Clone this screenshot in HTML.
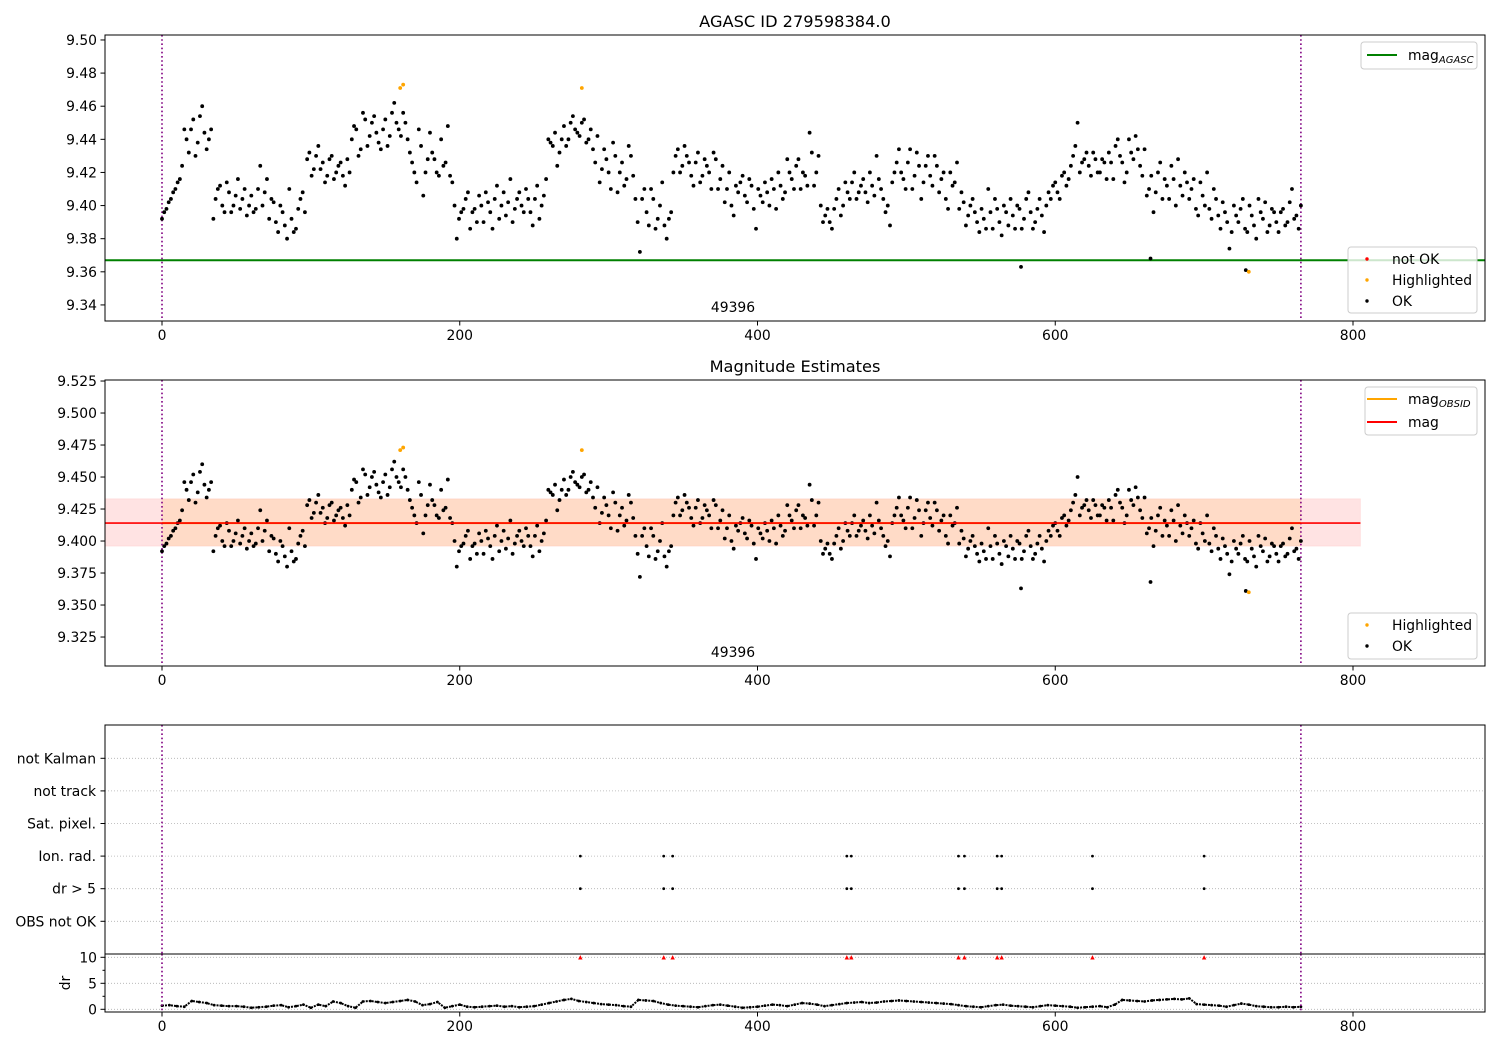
<!DOCTYPE html>
<html><head><meta charset="utf-8">
<style>
html,body{margin:0;padding:0;background:#fff;}
svg{display:block;font-family:"DejaVu Sans","Liberation Sans",sans-serif;}
</style></head>
<body>
<svg id="fig" width="1500" height="1050" viewBox="0 0 1500 1050" xmlns="http://www.w3.org/2000/svg"></svg>
<script>
// ---- data ----
const magStep = 3;
const magValues = [
9.392,9.398,9.404,9.410,9.416,9.446,9.432,9.452,9.438,9.460,
9.434,9.446,9.404,9.412,9.396,9.408,9.400,9.416,9.404,9.394,
9.406,9.398,9.424,9.408,9.392,9.402,9.384,9.396,9.380,9.392,
9.386,9.404,9.396,9.432,9.422,9.436,9.426,9.418,9.430,9.420,
9.426,9.412,9.420,9.448,9.430,9.456,9.436,9.450,9.444,9.434,
9.452,9.442,9.462,9.446,9.456,9.440,9.426,9.414,9.436,9.420,
9.444,9.428,9.418,9.424,9.448,9.414,9.380,9.396,9.404,9.386,
9.398,9.406,9.390,9.402,9.386,9.412,9.400,9.394,9.416,9.398,
9.408,9.396,9.404,9.388,9.412,9.400,9.416,9.438,9.444,9.432,
9.448,9.440,9.454,9.444,9.450,9.438,9.446,9.426,9.414,9.434,
9.420,9.438,9.408,9.426,9.416,9.430,9.404,9.372,9.410,9.388,
9.404,9.392,9.414,9.380,9.396,9.430,9.420,9.436,9.426,9.412,
9.432,9.418,9.424,9.410,9.428,9.416,9.402,9.420,9.394,9.408,
9.418,9.402,9.412,9.386,9.406,9.414,9.400,9.410,9.420,9.404,
9.428,9.416,9.424,9.410,9.418,9.444,9.412,9.430,9.390,9.398,
9.386,9.404,9.394,9.414,9.404,9.420,9.408,9.416,9.402,9.412,
9.430,9.410,9.396,9.388,9.420,9.434,9.416,9.426,9.410,9.432,
9.404,9.424,9.418,9.430,9.408,9.420,9.398,9.412,9.426,9.408,
9.388,9.400,9.396,9.384,9.392,9.410,9.386,9.398,9.382,9.396,
9.404,9.386,9.398,9.392,9.408,9.386,9.398,9.394,9.400,9.404,
9.414,9.404,9.420,9.416,9.430,9.450,9.426,9.432,9.418,9.428,
9.420,9.426,9.432,9.416,9.440,9.426,9.420,9.432,9.442,9.424,
9.434,9.410,9.396,9.420,9.404,9.412,9.424,9.400,9.412,9.420,
9.404,9.416,9.394,9.406,9.420,9.392,9.404,9.386,9.396,9.374,
9.400,9.390,9.404,9.384,9.394,9.380,9.396,9.402,9.388,9.396,
9.384,9.398,9.390,9.410,9.394,9.400];
const magOffsetB = 1.5;
const magValuesB = [
9.396,9.402,9.408,9.414,9.424,9.440,9.446,9.430,9.454,9.444,
9.440,9.392,9.410,9.400,9.414,9.396,9.406,9.398,9.410,9.400,
9.396,9.410,9.400,9.416,9.404,9.390,9.400,9.388,9.410,9.384,
9.398,9.408,9.428,9.418,9.430,9.422,9.414,9.428,9.416,9.424,
9.418,9.428,9.440,9.446,9.434,9.452,9.442,9.454,9.438,9.446,
9.436,9.456,9.450,9.442,9.450,9.432,9.420,9.446,9.406,9.428,
9.432,9.420,9.440,9.426,9.418,9.400,9.392,9.398,9.408,9.396,
9.390,9.400,9.408,9.396,9.404,9.392,9.408,9.402,9.390,9.404,
9.400,9.410,9.396,9.404,9.392,9.406,9.440,9.436,9.424,9.440,
9.436,9.450,9.446,9.442,9.452,9.440,9.434,9.442,9.422,9.428,
9.410,9.430,9.420,9.412,9.436,9.418,9.390,9.404,9.396,9.410,
9.386,9.400,9.388,9.392,9.420,9.434,9.424,9.430,9.418,9.426,
9.414,9.428,9.420,9.432,9.410,9.424,9.410,9.400,9.412,9.414,
9.406,9.416,9.398,9.410,9.402,9.408,9.416,9.398,9.412,9.408,
9.420,9.410,9.428,9.420,9.412,9.432,9.420,9.400,9.394,9.390,
9.398,9.410,9.400,9.408,9.414,9.404,9.412,9.408,9.420,9.406,
9.416,9.404,9.400,9.414,9.426,9.420,9.410,9.434,9.418,9.424,
9.414,9.430,9.412,9.424,9.416,9.404,9.420,9.414,9.398,9.402,
9.394,9.404,9.390,9.398,9.386,9.396,9.404,9.390,9.400,9.388,
9.394,9.400,9.386,9.404,9.396,9.390,9.404,9.384,9.408,9.412,
9.408,9.418,9.412,9.424,9.436,9.420,9.428,9.424,9.432,9.420,
9.428,9.416,9.426,9.436,9.430,9.414,9.440,9.428,9.434,9.418,
9.406,9.418,9.408,9.426,9.416,9.404,9.416,9.428,9.406,9.414,
9.410,9.398,9.414,9.400,9.398,9.410,9.394,9.402,9.390,9.384,
9.394,9.398,9.386,9.400,9.388,9.404,9.392,9.384,9.398,9.390,
9.396,9.388,9.402,9.392,9.386];
const extraT = [577, 664, 728];
const extraM = [9.363, 9.368, 9.361];
const hlT = [160, 162, 282, 730];
const hlM = [9.471, 9.473, 9.471, 9.360];
const magAgasc = 9.367;
const magObsid = 9.414;
const magMean = 9.414;
const magLow = 9.396;
const magHigh = 9.433;
const obsStart = 0, obsEnd = 765;
const obsLabel = "49396";
const flagTimes = [281, 337, 343, 460, 463, 535, 539, 561, 564, 625, 700];
const drStep = 5;
const drValues = [
0.7,0.8,0.6,0.5,1.6,1.4,1.2,0.8,0.7,0.6,
0.6,0.5,0.3,0.4,0.5,0.7,0.8,0.4,0.6,0.9,
0.3,0.9,0.6,1.5,1.2,0.6,0.3,1.5,1.6,1.4,
1.2,1.4,1.6,1.8,1.5,0.8,1.0,1.4,0.3,0.6,
0.9,0.5,0.4,0.5,0.6,0.7,0.5,0.6,0.4,0.5,
0.6,0.9,1.2,1.5,1.8,2.0,1.6,1.4,1.2,1.0,
0.9,0.8,0.6,0.5,1.8,1.7,1.6,1.2,0.9,0.7,
0.6,0.5,0.4,0.6,0.8,0.9,0.7,0.5,0.3,0.4,
0.5,0.7,0.9,0.8,0.6,0.9,1.2,1.1,0.9,0.6,
0.8,1.0,1.2,1.3,1.4,1.2,1.3,1.5,1.6,1.7,
1.6,1.5,1.4,1.3,1.2,1.1,1.0,0.8,0.6,0.5,
0.4,0.6,0.8,0.9,0.7,0.6,0.5,0.4,0.6,0.8,
0.7,0.6,0.5,0.3,0.4,0.5,0.6,0.4,0.9,1.8,
1.7,1.6,1.5,1.7,1.8,1.9,2.0,1.9,2.1,1.0,
0.9,0.8,0.7,0.5,0.8,1.1,0.9,0.6,0.5,0.4,
0.4,0.5,0.4,0.5];
const xTicks = [0, 200, 400, 600, 800];
const y1Ticks = [9.34, 9.36, 9.38, 9.40, 9.42, 9.44, 9.46, 9.48, 9.50];
const y2Ticks = [9.325, 9.350, 9.375, 9.400, 9.425, 9.450, 9.475, 9.500, 9.525];
const flagLabels = ["OBS not OK", "dr > 5", "Ion. rad.", "Sat. pixel.", "not track", "not Kalman"];
const drTicks = [0, 5, 10];

// ---- helpers ----
const NS = "http://www.w3.org/2000/svg";
const svg = document.getElementById('fig');
function el(tag, attrs, parent, text) {
  const e = document.createElementNS(NS, tag);
  for (const k in attrs) e.setAttribute(k, attrs[k]);
  if (text !== undefined) e.textContent = text;
  (parent || svg).appendChild(e);
  return e;
}
const L = 105, R = 1485;
const PR = 1.9;
const FS = 13.9;
const x = t => 162 + t * 1.48875;
const y1 = m => 35 + (9.503 - m) * 1656;
const y2 = m => 380 + (9.5258 - m) * 1280;
const yFlag = i => 921.3 - i * 32.6;
const yDr = d => 1009.3 - d * 5.2;

function axesFrame(name) {
  const g = el('g', {});
  
  
  return g;
}
function frameRect(g, top, bottom) {
  el('rect', {x: L, y: top, width: R - L, height: bottom - top, fill: 'none', stroke: '#000', 'stroke-width': 1}, g);
}
function xAxis(g, bottom, name) {
  const ax = el('g', {}, g);
  
  
  xTicks.forEach(t => {
    el('line', {x1: x(t), x2: x(t), y1: bottom, y2: bottom + 4.5, stroke: '#000'}, ax);
    const tx = el('text', {x: x(t), y: bottom + 19, 'font-size': FS, 'text-anchor': 'middle'}, ax, String(t));
    
    
  });
}
function yAxis(g, ticks, yf, dec, name) {
  const ax = el('g', {}, g);
  
  
  ticks.forEach(v => {
    el('line', {x1: L - 4.5, x2: L, y1: yf(v), y2: yf(v), stroke: '#000'}, ax);
    const tx = el('text', {x: L - 8, y: yf(v) + 5, 'font-size': FS, 'text-anchor': 'end'}, ax, v.toFixed(dec));
    
    
  });
}
function vlines(g, top, bottom) {
  [obsStart, obsEnd].forEach(t => {
    const ln = el('line', {x1: x(t), x2: x(t), y1: top, y2: bottom, stroke: '#800080', 'stroke-width': 1.6, 'stroke-dasharray': '1.6,2.6'}, g);
    
    
  });
}
function scatter(g, yf, name) {
  const sg = el('g', {}, g);
  
  
  magValues.forEach((m, i) => {
    const c = el('circle', {cx: x(i * magStep), cy: yf(m), r: PR, fill: '#000'}, sg);
    
    
  });
  magValuesB.forEach((m, i) => {
    const c = el('circle', {cx: x(magOffsetB + i * magStep), cy: yf(m), r: PR, fill: '#000'}, sg);
    
    
  });
  extraT.forEach((t, i) => {
    const c = el('circle', {cx: x(t), cy: yf(extraM[i]), r: PR, fill: '#000'}, sg);
    
    
  });
  hlT.forEach((t, i) => {
    const c = el('circle', {cx: x(t), cy: yf(hlM[i]), r: PR, fill: 'orange'}, sg);
    
    
  });
}
function legendBox(g, x0, y0, w, h, name) {
  const lg = el('g', {}, g);
  
  
  el('rect', {x: x0, y: y0, width: w, height: h, rx: 3, fill: 'rgba(255,255,255,0.8)', stroke: '#ccc'}, lg);
  return lg;
}
function legendLine(lg, yy, color, main, sub, name) {
  const it = el('g', {}, lg);
  
  
  el('line', {x1: 1367, x2: 1397, y1: yy, y2: yy, stroke: color, 'stroke-width': 2}, it);
  const t = el('text', {x: 1408, y: yy + 5, 'font-size': FS}, it, main);
  if (sub) el('tspan', {'font-size': 10, 'font-style': 'italic', dy: 3}, t, sub);
}
function legendDot(lg, yy, color, label, name) {
  const it = el('g', {}, lg);
  
  
  el('circle', {cx: 1367, cy: yy, r: 1.7, fill: color}, it);
  el('text', {x: 1392, y: yy + 5, 'font-size': FS}, it, label);
}

// ---- panel 1 ----
const p1 = axesFrame('agasc-panel');
const t1 = el('text', {x: 795, y: 27, 'font-size': 16.2, 'text-anchor': 'middle'}, p1, 'AGASC ID 279598384.0');


const agl = el('line', {x1: L, x2: R, y1: y1(magAgasc), y2: y1(magAgasc), stroke: 'green', 'stroke-width': 2}, p1);


vlines(p1, 35, 321);
scatter(p1, y1, 'magnitude-scatter');
const ol1 = el('text', {x: 733, y: 312, 'font-size': FS, 'text-anchor': 'middle'}, p1, obsLabel);


frameRect(p1, 35, 321);
xAxis(p1, 321, 'x-axis-1');
yAxis(p1, y1Ticks, y1, 2, 'y-axis-1');
let lg = legendBox(p1, 1361, 42, 116, 27, 'legend-agasc');
legendLine(lg, 55, 'green', 'mag', 'AGASC', 'legend-entry-mag-agasc');
lg = legendBox(p1, 1348, 247, 129, 66, 'legend-status');
legendDot(lg, 259, 'red', 'not OK', 'legend-entry-not-ok');
legendDot(lg, 280, 'orange', 'Highlighted', 'legend-entry-highlighted');
legendDot(lg, 301, '#000', 'OK', 'legend-entry-ok');

// ---- panel 2 ----
const p2 = axesFrame('estimates-panel');
const t2 = el('text', {x: 795, y: 372, 'font-size': 16.2, 'text-anchor': 'middle'}, p2, 'Magnitude Estimates');


const bandR = el('rect', {x: L, y: y2(magHigh), width: x(805) - L, height: y2(magLow) - y2(magHigh), fill: 'rgba(255,0,0,0.11)', stroke: 'rgba(255,0,0,0.06)'}, p2);


const bandO = el('rect', {x: x(obsStart), y: y2(magHigh), width: x(obsEnd) - x(obsStart), height: y2(magLow) - y2(magHigh), fill: 'rgba(255,165,0,0.12)'}, p2);


const oln = el('line', {x1: x(obsStart), x2: x(obsEnd), y1: y2(magObsid), y2: y2(magObsid), stroke: 'orange', 'stroke-width': 2}, p2);


vlines(p2, 380, 666);
scatter(p2, y2, 'magnitude-scatter-2');
const rln = el('line', {x1: L, x2: x(805), y1: y2(magMean), y2: y2(magMean), stroke: 'red', 'stroke-width': 1.6}, p2);


const ol2 = el('text', {x: 733, y: 657, 'font-size': FS, 'text-anchor': 'middle'}, p2, obsLabel);


frameRect(p2, 380, 666);
xAxis(p2, 666, 'x-axis-2');
yAxis(p2, y2Ticks, y2, 3, 'y-axis-2');
lg = legendBox(p2, 1365, 387, 112, 48, 'legend-estimates');
legendLine(lg, 399, 'orange', 'mag', 'OBSID', 'legend-entry-mag-obsid');
legendLine(lg, 422, 'red', 'mag', '', 'legend-entry-mag');
lg = legendBox(p2, 1348, 613, 129, 46, 'legend-status-2');
legendDot(lg, 625, 'orange', 'Highlighted', 'legend-entry-highlighted');
legendDot(lg, 646, '#000', 'OK', 'legend-entry-ok');

// ---- panel 3: flags ----
const p3 = axesFrame('flags-panel');
flagLabels.forEach((f, i) => {
  const gl = el('line', {x1: L, x2: R, y1: yFlag(i), y2: yFlag(i), stroke: '#b0b0b0', 'stroke-width': 0.8, 'stroke-dasharray': '1,2'}, p3);
  
  
  el('line', {x1: L - 4.5, x2: L, y1: yFlag(i), y2: yFlag(i), stroke: '#000'}, p3);
  const tx = el('text', {x: L - 9, y: yFlag(i) + 5, 'font-size': FS, 'text-anchor': 'end'}, p3, f);
  
  
});
flagTimes.forEach(t => {
  [1, 2].forEach(i => {
    const c = el('circle', {cx: x(t), cy: yFlag(i), r: 1.4, fill: '#000'}, p3);
    
    
  });
});
vlines(p3, 725, 954);
el('rect', {x: L, y: 725, width: R - L, height: 229, fill: 'none', stroke: '#000'}, p3);

// ---- panel 4: dr ----
const p4 = axesFrame('dr-panel');
drTicks.forEach(d => {
  const gl = el('line', {x1: L, x2: R, y1: yDr(d), y2: yDr(d), stroke: '#b0b0b0', 'stroke-width': 0.8, 'stroke-dasharray': '1,2'}, p4);
  
  
  el('line', {x1: L - 4.5, x2: L, y1: yDr(d), y2: yDr(d), stroke: '#000'}, p4);
  const tx = el('text', {x: L - 8, y: yDr(d) + 5, 'font-size': FS, 'text-anchor': 'end'}, p4, String(d));
  
  
});
[2.5, 7.5].forEach(d => el('line', {x1: L - 2.5, x2: L, y1: yDr(d), y2: yDr(d), stroke: '#000'}, p4));
const drl = el('text', {x: 0, y: 0, 'font-size': FS, 'text-anchor': 'middle', transform: 'translate(70,983) rotate(-90)'}, p4, 'dr');


const drg = el('g', {}, p4);


el('polyline', {points: drValues.map((d, i) => x(i * drStep) + ',' + yDr(d)).join(' '), fill: 'none', stroke: '#000', 'stroke-width': 2, 'stroke-dasharray': '2,1'}, drg);
drValues.forEach((d, i) => {
  const c = el('circle', {cx: x(i * drStep), cy: yDr(d), r: 1.4, fill: '#000'}, drg);
  
  
});
flagTimes.forEach(t => {
  const xx = x(t), yy = yDr(10);
  const tr = el('polygon', {points: `${xx-2.2},${yy+2.2} ${xx+2.2},${yy+2.2} ${xx},${yy-2.2}`, fill: 'red'}, p4);
  
  
});
vlines(p4, 954, 1012);
el('rect', {x: L, y: 954, width: R - L, height: 58, fill: 'none', stroke: '#000'}, p4);
xAxis(p4, 1012, 'x-axis-3');
</script>
</body></html>
